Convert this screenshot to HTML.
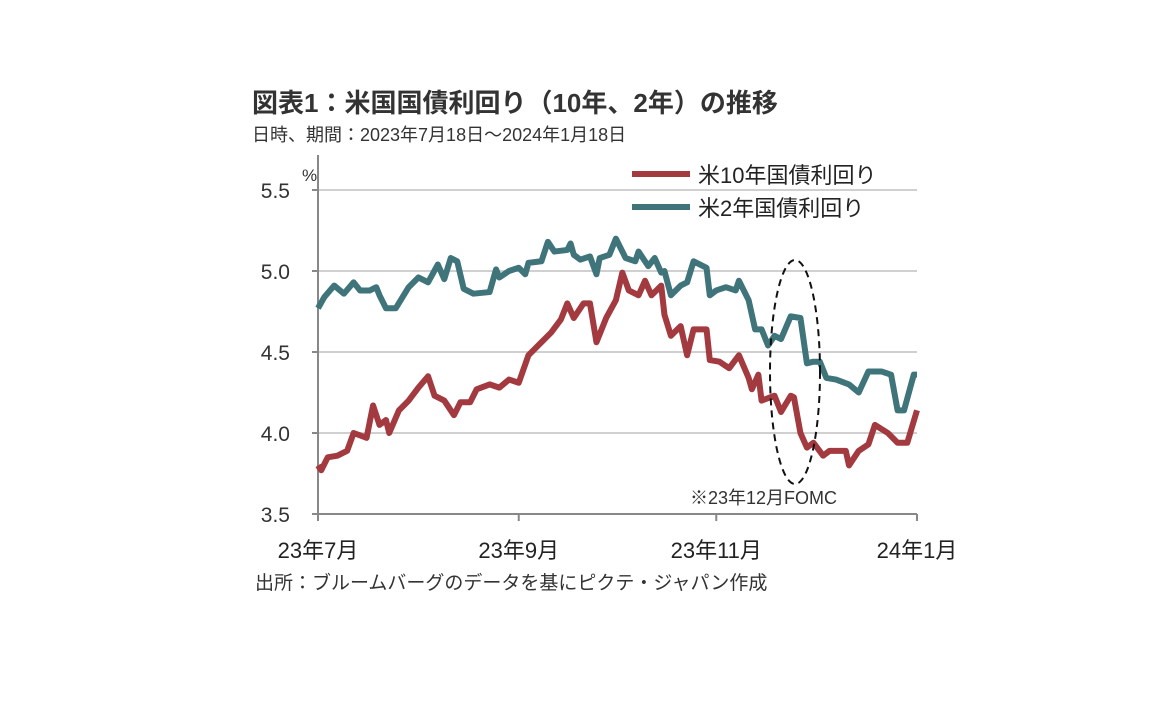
<!DOCTYPE html>
<html><head><meta charset="utf-8"><style>
body{margin:0;background:#fff;font-family:"Liberation Sans","Noto Sans CJK JP",sans-serif;}
svg text{font-family:"Liberation Sans","Noto Sans CJK JP",sans-serif;}
</style></head><body>
<svg id="c" width="1152" height="720">
<text x="252" y="112" font-size="26" font-weight="bold" fill="#333">図表1：米国国債利回り（10年、2年）の推移</text>
<text x="252" y="141" font-size="18" fill="#333">日時、期間：2023年7月18日～2024年1月18日</text>
<text x="302" y="181" font-size="17" fill="#333">%</text>
<g id="grid"></g>
<g id="axes"></g>
<g id="lines"></g>
<ellipse cx="795" cy="372" rx="25" ry="112" fill="none" stroke="#111" stroke-width="2" stroke-dasharray="7,5"/>
<text x="690" y="504" font-size="18" fill="#333">※23年12月FOMC</text>
<g>
<line x1="632" y1="174" x2="690" y2="174" stroke="#a23a3f" stroke-width="6"/>
<text x="698" y="183" font-size="22" fill="#222">米10年国債利回り</text>
<line x1="632" y1="207" x2="690" y2="207" stroke="#3f747b" stroke-width="6"/>
<text x="698" y="216" font-size="22" fill="#222">米2年国債利回り</text>
</g>
<text x="255" y="589" font-size="19" fill="#333">出所：ブルームバーグのデータを基にピクテ・ジャパン作成</text>
</svg>
<script>
const yTicks=[3.5,4.0,4.5,5.0,5.5];
const xTickLabels=["23年7月","23年9月","23年11月","24年1月"];
const xTickDays=[0,62,123,185];
const days10=[0,1,3,6,9,11,15,17,19,21,22,25,28,31,34,36,39,42,44,47,49,53,56,59,62,65,69,72,75,77,79,82,84,86,89,92,94,96,99,101,103,106,107,109,112,114,116,120,121,124,127,130,133,134,136,137,141,143,146,147,149,151,153,156,158,163,164,167,170,172,176,179,182,185];
const vals10=[3.80,3.77,3.85,3.86,3.89,4.0,3.97,4.17,4.05,4.08,4.0,4.14,4.2,4.28,4.35,4.23,4.2,4.11,4.19,4.19,4.27,4.3,4.28,4.33,4.31,4.48,4.56,4.62,4.70,4.80,4.71,4.80,4.80,4.56,4.71,4.82,4.99,4.88,4.85,4.94,4.85,4.91,4.73,4.60,4.66,4.48,4.64,4.64,4.45,4.44,4.40,4.48,4.34,4.27,4.36,4.20,4.23,4.13,4.23,4.22,4.0,3.91,3.94,3.86,3.89,3.89,3.80,3.89,3.93,4.05,4.0,3.94,3.94,4.14];
const days2=[0,2,5,8,11,13,16,18,19,21,24,28,31,34,37,39,41,43,45,48,53,55,56,59,62,64,65,69,71,73,77,78,79,81,84,86,87,90,92,95,98,99,102,104,106,107,109,112,114,116,120,121,123,126,129,130,133,135,137,139,141,143,146,149,151,153,155,157,160,164,167,170,174,177,179,181,184,185];
const vals2=[4.77,4.84,4.91,4.86,4.93,4.88,4.88,4.90,4.85,4.77,4.77,4.90,4.96,4.93,5.04,4.95,5.08,5.06,4.89,4.86,4.87,5.01,4.96,5.0,5.02,4.98,5.05,5.06,5.18,5.12,5.13,5.17,5.10,5.07,5.09,4.98,5.08,5.10,5.20,5.08,5.06,5.12,5.03,5.08,4.99,5.0,4.85,4.91,4.93,5.06,5.02,4.85,4.88,4.90,4.88,4.94,4.82,4.64,4.64,4.54,4.60,4.58,4.72,4.71,4.43,4.44,4.44,4.34,4.33,4.30,4.25,4.38,4.38,4.36,4.14,4.14,4.36,4.36];
const X0=318,X1=917,D0=0,D1=185,Y0=514,Y1=190,V0=3.5,V1=5.5;
function xs(d){return X0+(d-D0)/(D1-D0)*(X1-X0);}
function ys(v){return Y0-(v-V0)/(V1-V0)*(Y0-Y1);}
const NS="http://www.w3.org/2000/svg";
function mk(t,a,p){const e=document.createElementNS(NS,t);for(const k in a)e.setAttribute(k,a[k]);p.appendChild(e);return e;}
const grid=document.getElementById('grid'),axes=document.getElementById('axes'),lines=document.getElementById('lines');
yTicks.forEach((v,i)=>{
  if(v>V0){const g=mk('line',{x1:X0,x2:X1,y1:ys(v),y2:ys(v),stroke:'#d0d0d0','stroke-width':2},grid);
  
  }
  const t=mk('text',{x:290,y:ys(v)+8,'font-size':21,fill:'#333','text-anchor':'end'},axes);
  t.textContent=v.toFixed(1);
  
  
  const tk=mk('line',{x1:X0-6,x2:X0,y1:ys(v),y2:ys(v),stroke:'#888','stroke-width':2},axes);
  
  
});
const ya=mk('line',{x1:X0,x2:X0,y1:Y1-35,y2:Y0,stroke:'#888','stroke-width':2},axes);


const xa=mk('line',{x1:X0,x2:X1,y1:Y0,y2:Y0,stroke:'#888','stroke-width':2},axes);


xTickDays.forEach((d,i)=>{
  const tk=mk('line',{x1:xs(d),x2:xs(d),y1:Y0,y2:Y0+7,stroke:'#888','stroke-width':2},axes);
  
  
  const t=mk('text',{x:xs(d),y:Y0+44,'font-size':22,fill:'#222','text-anchor':'middle'},axes);
  t.textContent=xTickLabels[i];
  
  
});
function draw(ds,vs,col,name){
  const p=mk('polyline',{points:ds.map((d,i)=>xs(d)+','+ys(vs[i])).join(' '),fill:'none',stroke:col,'stroke-width':6,'stroke-linejoin':'round'},lines);
  
  
}
draw(days2,vals2,'#3f747b','series-2y-line');
draw(days10,vals10,'#a23a3f','series-10y-line');
</script>
</body></html>
